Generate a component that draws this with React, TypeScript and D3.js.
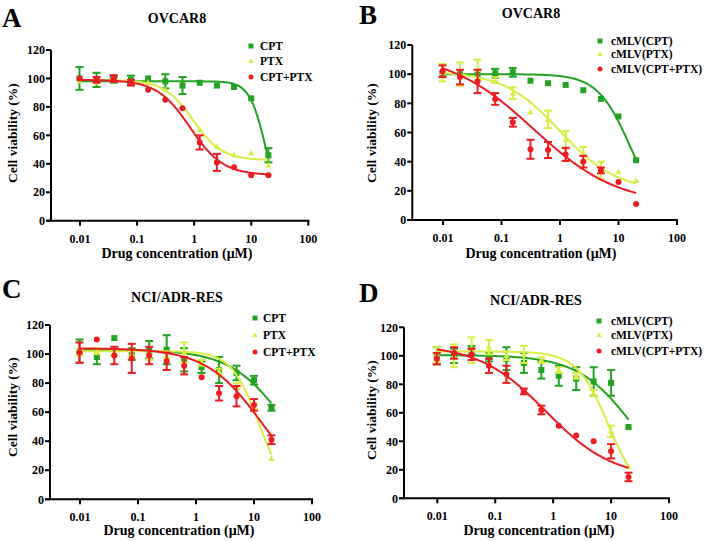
import React from 'react';
import * as d3 from 'd3';

// ---------- data ----------
const CONC = [0.0098, 0.0195, 0.039, 0.078, 0.156, 0.3125, 0.625, 1.25, 2.5, 5, 10, 20];
const X_TICKS = [0.01, 0.1, 1, 10, 100];
const X_TICK_LABELS = ['0.01', '0.1', '1', '10', '100'];
const Y_TICKS = [0, 20, 40, 60, 80, 100, 120];

const PANEL_LETTERS = ['A', 'B', 'C', 'D'];
const PANEL_TITLES = ['OVCAR8', 'OVCAR8', 'NCI/ADR-RES', 'NCI/ADR-RES'];
const FREE_NAMES = ['CPT', 'PTX', 'CPT+PTX'];
const LIPO_NAMES = ['cMLV(CPT)', 'cMLV(PTX)', 'cMLV(CPT+PTX)'];

// Panel A
const A_CPT_MEAN = [100, 99, 99, 99, 100, 98, 95, 97, 95, 94, 86, 46];
const A_CPT_ERR = [8, 5, 2, 3, 1, 5, 6, 1, 1, 1, 1, 5];
const A_PTX_MEAN = [98, 97, 99, 98, 97, 92, 80, 64, 52, 46, 47.5, 39];
const A_PTX_ERR = [1, 1, 1, 1, 1, 1, 1, 1, 1, 1, 1, 1];
const A_MIX_MEAN = [100, 99, 100, 97, 92, 85, 79, 55, 41, 37.5, 32, 32];
const A_MIX_ERR = [1, 2, 2.3, 2, 1, 1, 1, 5, 6, 1, 0, 0];
// fit parameters: top, bottom, EC50, hill
const A_CPT_FIT = [98, 0, 18.5, 3];
const A_PTX_FIT = [99, 42.5, 0.95, 1.7];
const A_MIX_FIT = [99, 32, 0.85, 1.5];

// Panel B
const B_CPT_MEAN = [100, 100, 100, 100.6, 101.3, 95.5, 93.8, 92.6, 89, 83, 71, 41];
const B_CPT_ERR = [1, 1, 1, 3, 3, 1, 1, 1, 1, 1, 1, 1];
const B_PTX_MEAN = [101, 100, 103, 96, 87, 74, 69, 55, 45, 34, 33, 27];
const B_PTX_ERR = [6, 8, 7, 2, 4, 1, 6, 6, 5, 6, 1, 1];
const B_MIX_MEAN = [102, 98, 95, 83, 67, 48.5, 48, 45, 40, 34, 26, 11];
const B_MIX_ERR = [4, 5, 8, 4, 3, 6.5, 5.5, 4.5, 4, 2, 0, 0];
const B_CPT_FIT = [100, 0, 16, 1.55];
const B_PTX_FIT = [102, 20, 1.0, 0.9];
const B_MIX_FIT = [115, 10, 0.35, 0.6];

// Panel C
const C_CPT_MEAN = [102, 98, 111, 100, 103, 103, 96, 91, 89, 87, 82, 63];
const C_CPT_ERR = [8, 5, 0, 4, 6, 10, 8, 4, 9, 5, 3, 2];
const C_PTX_MEAN = [101, 102, 101, 100, 98, 99, 101, 94, 88, 78, 64, 28];
const C_PTX_ERR = [2, 2, 2, 2, 2, 2, 7, 2, 2, 2, 2, 1];
const C_MIX_MEAN = [101, 110, 99, 97, 99, 95, 92, 84, 73, 71, 65, 41];
const C_MIX_ERR = [7, 0, 6, 10, 6, 6, 6, 1, 5, 7, 4, 3];
const C_CPT_FIT = [103, 0, 38, 0.9];
const C_PTX_FIT = [102, 0, 12.5, 1.8];
const C_MIX_FIT = [104, 0, 14, 0.9];

// Panel D
const D_CPT_MEAN = [100, 100, 104, 99, 98, 95, 90, 86, 84, 82, 81, 50];
const D_CPT_ERR = [6, 5, 3, 3, 8, 7, 6, 7, 8, 10, 9, 0];
const D_PTX_MEAN = [101, 100, 104, 106, 100, 101, 97, 90, 86, 74, 47, 22];
const D_PTX_ERR = [5, 8, 9, 5, 3, 6, 2, 2, 2, 2, 4, 1];
const D_MIX_MEAN = [98, 102, 101, 93, 87, 75, 62, 51, 44, 40, 33, 15];
const D_MIX_ERR = [4, 4, 4, 5, 6, 2, 3, 1, 0, 0, 5, 3];
const D_CPT_FIT = [100.5, 0, 25, 0.9];
const D_PTX_FIT = [103, 0, 9, 1.6];
const D_MIX_FIT = [108, 14, 0.75, 0.75];

// ---------- style ----------
const COLORS = ['#24a224', '#d8ee46', '#ec1c24'];
const SHAPES = ['square', 'triangle', 'circle'];
const FONT = '"Liberation Serif", "Times New Roman", serif';

type Layout = {
  ax: number; x001: number; x100: number; y0: number; y120: number;
  titleX: number; titleY: number; letterX: number; letterY: number;
  ylabX: number; ylabY: number; xlabX: number; xlabY: number;
  legX: number; legTextX: number; legY: number[];
};

const LAYOUTS: Layout[] = [
  { ax: 51, x001: 80, x100: 308.3, y0: 220.7, y120: 50, titleX: 177, titleY: 23, letterX: 2, letterY: 27, ylabX: 12, ylabY: 133, xlabX: 177, xlabY: 258, legX: 251, legTextX: 260, legY: [46, 61, 77] },
  { ax: 412.3, x001: 443, x100: 677, y0: 220, y120: 45, titleX: 531, titleY: 18, letterX: 359, letterY: 24, ylabX: 371, ylabY: 133, xlabX: 541, xlabY: 258, legX: 600, legTextX: 611, legY: [41, 54, 69] },
  { ax: 50, x001: 80, x100: 312, y0: 499.3, y120: 325, titleX: 177, titleY: 302, letterX: 2, letterY: 298, ylabX: 12, ylabY: 407, xlabX: 179, xlabY: 535, legX: 255, legTextX: 263, legY: [318, 335, 352] },
  { ax: 404, x001: 437.3, x100: 669, y0: 498.3, y120: 327.3, titleX: 536, titleY: 305, letterX: 359, letterY: 302, ylabX: 371, ylabY: 410, xlabX: 539, xlabY: 535, legX: 599, legTextX: 611, legY: [321, 335, 351] },
];

type Series = { mean: number[]; err: number[]; fit: number[] };

const PANELS: { series: Series[]; names: string[] }[] = [
  { names: FREE_NAMES, series: [
    { mean: A_CPT_MEAN, err: A_CPT_ERR, fit: A_CPT_FIT },
    { mean: A_PTX_MEAN, err: A_PTX_ERR, fit: A_PTX_FIT },
    { mean: A_MIX_MEAN, err: A_MIX_ERR, fit: A_MIX_FIT }] },
  { names: LIPO_NAMES, series: [
    { mean: B_CPT_MEAN, err: B_CPT_ERR, fit: B_CPT_FIT },
    { mean: B_PTX_MEAN, err: B_PTX_ERR, fit: B_PTX_FIT },
    { mean: B_MIX_MEAN, err: B_MIX_ERR, fit: B_MIX_FIT }] },
  { names: FREE_NAMES, series: [
    { mean: C_CPT_MEAN, err: C_CPT_ERR, fit: C_CPT_FIT },
    { mean: C_PTX_MEAN, err: C_PTX_ERR, fit: C_PTX_FIT },
    { mean: C_MIX_MEAN, err: C_MIX_ERR, fit: C_MIX_FIT }] },
  { names: LIPO_NAMES, series: [
    { mean: D_CPT_MEAN, err: D_CPT_ERR, fit: D_CPT_FIT },
    { mean: D_PTX_MEAN, err: D_PTX_ERR, fit: D_PTX_FIT },
    { mean: D_MIX_MEAN, err: D_MIX_ERR, fit: D_MIX_FIT }] },
];

function logistic(fit: number[], x: number) {
  const [top, bottom, ec50, hill] = fit;
  return bottom + (top - bottom) / (1 + Math.pow(x / ec50, hill));
}

function Marker({ shape, x, y, color, s }: { shape: string; x: number; y: number; color: string; s: number }) {
  if (shape === 'square') return <rect x={x - s / 2} y={y - s / 2} width={s} height={s} fill={color} />;
  if (shape === 'triangle') {
    const h = s * 0.95;
    return <path d={`M${x},${y - h * 0.6}L${x + s / 2},${y + h * 0.4}L${x - s / 2},${y + h * 0.4}Z`} fill={color} />;
  }
  return <circle cx={x} cy={y} r={s / 2} fill={color} />;
}

function Panel({ idx }: { idx: number }) {
  const L = LAYOUTS[idx];
  const P = PANELS[idx];
  const x = d3.scaleLog().domain([0.01, 100]).range([L.x001, L.x100]);
  const y = d3.scaleLinear().domain([0, 120]).range([L.y0, L.y120]);
  const xmin = d3.min(CONC) as number;
  const xmax = d3.max(CONC) as number;
  const samples = d3.range(0, 201).map(i => Math.pow(10, Math.log10(xmin) + (Math.log10(xmax) - Math.log10(xmin)) * i / 200));

  return (
    <g>
      <text x={L.letterX} y={L.letterY} fontFamily={FONT} fontWeight="bold" fontSize={27}>{PANEL_LETTERS[idx]}</text>
      <text x={L.titleX} y={L.titleY} fontFamily={FONT} fontWeight="bold" fontSize={14} textAnchor="middle">{PANEL_TITLES[idx]}</text>

      {/* axes */}
      <line x1={L.ax} x2={L.ax} y1={y(0)} y2={y(120)} stroke="#000" strokeWidth={2} />
      <line x1={L.ax - 5} x2={x(100) + 1} y1={y(0)} y2={y(0)} stroke="#000" strokeWidth={2} />
      {Y_TICKS.map(t => (
        <g key={'y' + t}>
          <line x1={L.ax - 5} x2={L.ax} y1={y(t)} y2={y(t)} stroke="#000" strokeWidth={2} />
          <text x={L.ax - 6} y={y(t)} dy="0.35em" textAnchor="end" fontFamily={FONT} fontWeight="bold" fontSize={12}>{t}</text>
        </g>
      ))}
      {X_TICKS.map((t, i) => (
        <g key={'x' + t}>
          <line x1={x(t)} x2={x(t)} y1={y(0)} y2={y(0) + 5} stroke="#000" strokeWidth={2} />
          <text x={x(t)} y={y(0) + 22} textAnchor="middle" fontFamily={FONT} fontWeight="bold" fontSize={12}>{X_TICK_LABELS[i]}</text>
        </g>
      ))}
      <text transform={`translate(${L.ylabX},${L.ylabY}) rotate(-90)`} dy="0.35em" textAnchor="middle" fontFamily={FONT} fontWeight="bold" fontSize={13.5}>Cell viability (%)</text>
      <text x={L.xlabX} y={L.xlabY} textAnchor="middle" fontFamily={FONT} fontWeight="bold" fontSize={14}>Drug concentration (μM)</text>

      {/* series */}
      {P.series.map((s, si) => {
        const path = d3.line<number>().x(d => x(d)).y(d => y(logistic(s.fit, d))).curve(d3.curveBasis)(samples) || '';
        return (
          <g key={'s' + si}>
            <path d={path} fill="none" stroke={COLORS[si]} strokeWidth={2} />
            {CONC.map((c, ci) => {
              const e = s.err[ci];
              const cx = x(c);
              return (
                <g key={ci}>
                  {e > 1.2 && (
                    <g stroke={COLORS[si]} strokeWidth={2}>
                      <line x1={cx} x2={cx} y1={y(s.mean[ci] - e)} y2={y(s.mean[ci] + e)} />
                      <line x1={cx - 4} x2={cx + 4} y1={y(s.mean[ci] - e)} y2={y(s.mean[ci] - e)} />
                      <line x1={cx - 4} x2={cx + 4} y1={y(s.mean[ci] + e)} y2={y(s.mean[ci] + e)} />
                    </g>
                  )}
                  <Marker shape={SHAPES[si]} x={cx} y={y(s.mean[ci])} color={COLORS[si]} s={6} />
                </g>
              );
            })}
          </g>
        );
      })}

      {/* legend */}
      {P.names.map((n, i) => (
        <g key={'l' + i}>
          <Marker shape={SHAPES[i]} x={L.legX} y={L.legY[i]} color={COLORS[i]} s={5} />
          <text x={L.legTextX} y={L.legY[i]} dy="0.35em" fontFamily={FONT} fontWeight="bold" fontSize={11.5}>{n}</text>
        </g>
      ))}
    </g>
  );
}

export default function App() {
  return (
    <svg width={708} height={541} style={{ position: 'absolute', left: 0, top: 0, background: '#fff' }}>
      <rect x={0} y={0} width={708} height={541} fill="#fff" />
      {[0, 1, 2, 3].map(i => <Panel key={i} idx={i} />)}
    </svg>
  );
}
